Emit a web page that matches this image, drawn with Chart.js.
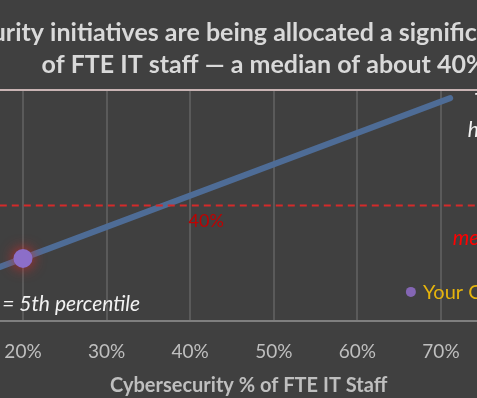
<!DOCTYPE html>
<html>
<head>
<meta charset="utf-8">
<script src="https://cdn.jsdelivr.net/npm/chart.js@4/dist/chart.umd.min.js"></script>
<style>
  html, body { margin: 0; padding: 0; background: #404040; overflow: hidden; }
  #wrap { position: relative; width: 477px; height: 398px; overflow: hidden; }
  #chart { position: absolute; left: -200px; top: 0; }
</style>
</head>
<body>
<div id="wrap"><canvas id="chart" width="928" height="398"></canvas></div>
<script>
// --- data ---
const xTicks = [0, 10, 20, 30, 40, 50, 60, 70, 80, 90];
const trendX = [10, 71.1];          // % of FTE IT staff
const trendY = [13.6, 96.5];        // percentile position
const medianX = [0, 94];
const medianY = [50, 50];
const companyX = [20];
const companyY = [27.1];

const font = 'Lato, "Open Sans", sans-serif';

const pts = (xs, ys) => xs.map((x, i) => ({ x: x, y: ys[i] }));

// text notes placed in data units
const notes = [
    { text: '40%', x: 39.8, y: 40.6, color: '#c00000', style: '', size: 18, align: 'left' },
    { text: 'Line start = 5th percentile', x: 34.0, y: 4.3, color: '#f2f2f2', style: 'italic', size: 21, align: 'right' },
    { text: 'Top of line', x: 73.95, y: 92.2, color: '#f2f2f2', style: 'italic', size: 21, align: 'left' },
    { text: 'high end = 95th percentile', x: 73.2, y: 79.7, color: '#f2f2f2', style: 'italic', size: 21, align: 'left' },
    { text: 'median', x: 71.4, y: 32.9, color: '#ff0000', style: 'italic', size: 21, align: 'left' },
    { text: 'Your Company', x: 67.85, y: 9.5, color: '#e6b40c', style: '', size: 20, align: 'left' }
];

const notesPlugin = {
    id: 'notes',
    afterDatasetsDraw(chart) {
        const ctx = chart.ctx, sx = chart.scales.x, sy = chart.scales.y;
        ctx.save();
        // legend dot
        ctx.fillStyle = '#8466b4';
        ctx.beginPath();
        ctx.arc(sx.getPixelForValue(66.4), sy.getPixelForValue(12.6), 5, 0, Math.PI * 2);
        ctx.fill();
        notes.forEach(n => {
            ctx.font = (n.style ? n.style + ' ' : '') + n.size + 'px ' + font;
            ctx.fillStyle = n.color;
            ctx.textAlign = n.align;
            ctx.textBaseline = 'alphabetic';
            ctx.fillText(n.text, sx.getPixelForValue(n.x), sy.getPixelForValue(n.y));
        });
        ctx.restore();
    }
};

// soft red glow behind the company point
const glowPlugin = {
    id: 'glow',
    beforeDatasetDraw(chart, args) {
        if (args.index !== 2) return;
        chart.ctx.save();
        chart.ctx.shadowColor = 'rgba(225, 40, 40, 0.9)';
        chart.ctx.shadowBlur = 14;
    },
    afterDatasetDraw(chart, args) {
        if (args.index !== 2) return;
        chart.ctx.restore();
    }
};

new Chart(document.getElementById('chart').getContext('2d'), {
    type: 'scatter',
    data: {
        datasets: [{
            data: pts(trendX, trendY),
            showLine: true,
            borderColor: '#4e6c96',
            borderWidth: 6,
            borderCapStyle: 'round',
            pointRadius: 0,
            order: 3
        }, {
            data: pts(medianX, medianY),
            showLine: true,
            borderColor: '#d42a2a',
            borderWidth: 2,
            borderDash: [7, 5],
            pointRadius: 0,
            order: 2
        }, {
            data: pts(companyX, companyY),
            backgroundColor: '#8c6ec8',
            borderWidth: 0,
            pointRadius: 9.5,
            order: 1
        }]
    },
    options: {
        responsive: false,
        animation: false,
        devicePixelRatio: 1,
        layout: { padding: 0 },
        plugins: {
            legend: { display: false },
            tooltip: { enabled: false },
            title: {
                display: true,
                text: ['Cybersecurity initiatives are being allocated a significant proportion',
                       'of FTE IT staff \u2014 a median of about 40%'],
                color: '#d9d9d9',
                font: { family: font, size: 25, weight: 'bold', lineHeight: 1.28 },
                padding: { top: 17, bottom: 9 }
            }
        },
        scales: {
            x: {
                type: 'linear',
                min: 0,
                max: 94,
                afterBuildTicks: s => { s.ticks = xTicks.map(v => ({ value: v })); },
                ticks: {
                    color: '#bfbfbf',
                    font: { family: font, size: 19 },
                    padding: 19,
                    callback: v => v + '%'
                },
                grid: { color: '#5a5a5a', lineWidth: 2, drawTicks: false },
                border: { color: '#7f7f7f', width: 2 },
                title: {
                    display: true,
                    text: 'Cybersecurity % of FTE IT Staff',
                    color: '#bfbfbf',
                    font: { family: font, size: 20, weight: 'bold' },
                    padding: { top: 4, bottom: 0 }
                },
                afterFit: s => { s.height = 77; }
            },
            y: {
                min: 0,
                max: 100,
                afterBuildTicks: s => { s.ticks = [{ value: 100 }]; },
                ticks: { display: false },
                grid: { color: '#c9b4b4', lineWidth: 2, drawTicks: false },
                border: { display: false },
                afterFit: s => { s.width = 55.8; }
            },
            y2: {
                position: 'right',
                min: 0,
                max: 100,
                ticks: { display: false },
                grid: { display: false },
                border: { display: false },
                afterFit: s => { s.width = 86.4; }
            }
        }
    },
    plugins: [notesPlugin, glowPlugin]
});
</script>
</body>
</html>
